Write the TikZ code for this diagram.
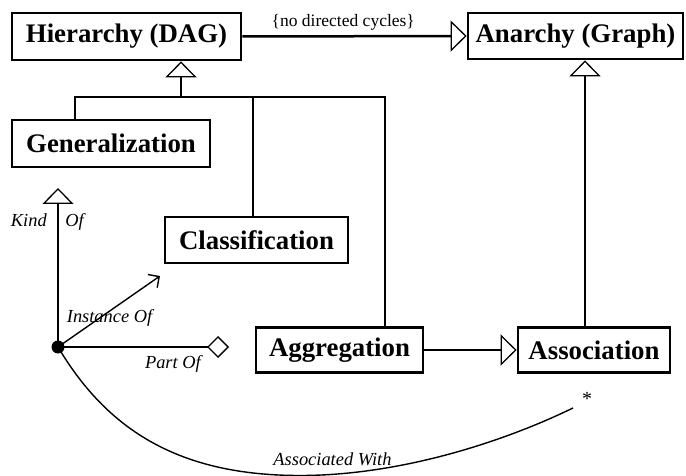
\documentclass[tikz,border=0pt]{standalone}
\usepackage{fontspec}
\setmainfont{Liberation Serif}
\usetikzlibrary{arrows.meta}
\begin{document}
\begin{tikzpicture}[x=1pt,y=-1pt,
  box/.style={draw, line width=2.7pt, inner sep=0pt,
    font=\fontsize{26.8}{30}\selectfont\bfseries},
  conn/.style={line width=2.5pt},
  lightline/.style={line width=1.4pt},
  lbl/.style={font=\fontsize{18.4}{22}\selectfont\itshape, inner sep=0pt},
  note/.style={font=\fontsize{17.5}{21}\selectfont, inner sep=0pt},
  isa/.style={-{Triangle[open,line width=1.3pt,length=16pt,width=31pt]}},
  part/.style={-{Diamond[open,line width=1.3pt,length=22pt,width=22pt]}},
  inst/.style={-{Straight Barb[line width=1.4pt,length=8pt,width=16pt]}},
  dotnode/.style={circle, fill, inner sep=0pt, minimum size=13pt}
]
\useasboundingbox (0,0) rectangle (686,476);

% class boxes
\node[box, minimum width=229pt, minimum height=47pt] (hier) at (126.5,36.5) {Hierarchy (DAG)};
\node[box, minimum width=215pt, minimum height=46pt] (anar) at (575.5,36) {Anarchy (Graph)};
\node[box, minimum width=198pt, minimum height=47pt] (gen)  at (111,143.5) {Generalization};
\node[box, minimum width=183pt, minimum height=46pt] (cls)  at (256.5,240) {Classification};
\node[box, minimum width=167pt, minimum height=45pt] (agg)  at (339.5,350) {Aggregation};
\node[box, minimum width=152pt, minimum height=45pt] (asc)  at (594,350) {Association};

% hierarchy is a restricted graph
\draw[conn, isa] (hier.east) -- (anar.west)
  node[note, pos=0.45, anchor=base, yshift=9.5pt] {\{no directed cycles\}};

% shared inheritance tree into the hierarchy
\coordinate (j)  at (181,97);
\coordinate (jl) at (75,97);
\coordinate (jm) at (253,97);
\coordinate (jr) at (385,97);
\draw[conn] (gen.north -| jl) -- (jl) -- (jr) -- (agg.north -| jr);
\draw[conn] (jm) -- (cls.north -| jm);
\draw[conn, isa] (j) -- (hier.south -| j);

% association specialises the general graph
\coordinate (av) at (585,200);
\draw[conn, isa] (asc.north -| av) -- (anar.south -| av);

% aggregation is a kind of association
\draw[conn, isa] (agg.east) -- (asc.west);

% relationship kinds emanating from one element
\node[dotnode] (dot) at (58,347) {};
\coordinate (kindtip) at (58,188);
\coordinate (insttip) at (160,276);
\coordinate (parttip) at (229,347);
\coordinate (asctail) at (573,408);

\draw[conn, isa] (dot.center) -- (kindtip)
  node[lbl, pos=0.761, anchor=base east, xshift=-10pt] {Kind}
  node[lbl, pos=0.761, anchor=base west, xshift=6pt] {Of};

\draw[lightline, inst] (dot.center) -- (insttip)
  node[lbl, pos=0.34, anchor=base west, xshift=-26.5pt] {Instance Of};

\draw[conn, part] (dot.center) -- (parttip)
  node[lbl, pos=0.842, anchor=base east, yshift=-21pt] {Part Of};

\draw[lightline] (dot.center) .. controls (108,431) and (180,475.5) .. (300,475.5)
  node[lbl, anchor=base, xshift=32.5pt, yshift=10.5pt] {Associated With}
  .. controls (400,475.5) and (503,442) .. (asctail);

\node[font=\fontsize{20}{24}\selectfont, inner sep=0pt] (star) at (587,399) {*};
\end{tikzpicture}
\end{document}
